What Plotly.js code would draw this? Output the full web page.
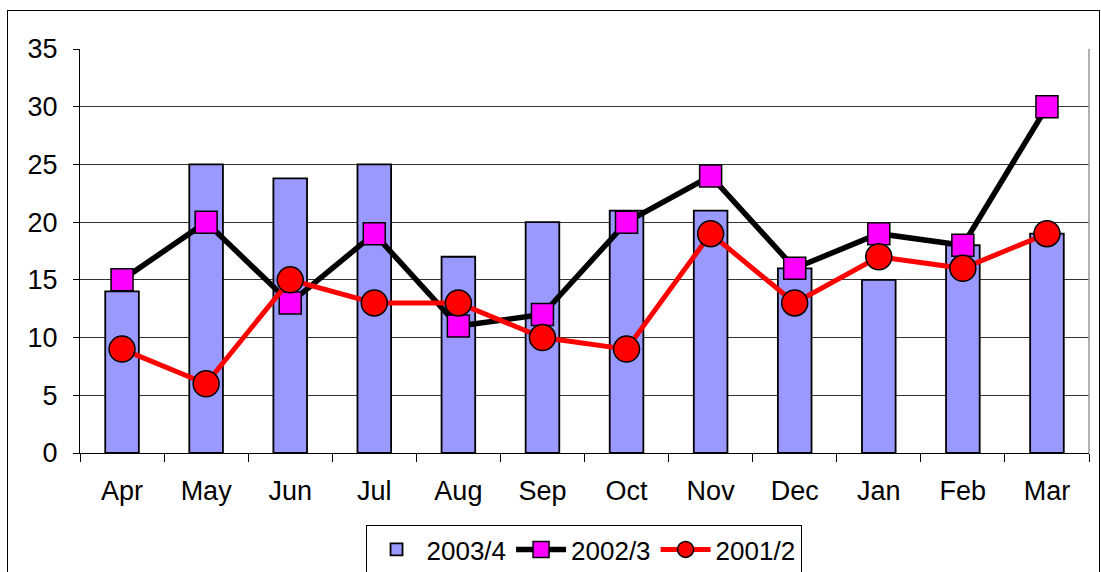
<!DOCTYPE html>
<html>
<head>
<meta charset="utf-8">
<script src="https://cdn.plot.ly/plotly-3.0.1.min.js"></script>
<style>
  html, body { margin: 0; padding: 0; background: #fff; overflow: hidden; }
  #wrap { position: relative; width: 1101px; height: 572px; }
  #frame { position: absolute; left: 7px; top: 10px; width: 1093px; height: 580px; border: 1px solid #000; box-sizing: border-box; pointer-events: none; }
  #chart { position: absolute; left: 0; top: 0; width: 1101px; height: 572px; }
</style>
</head>
<body>
<div id="wrap">
  <div id="chart"></div>
  <div id="frame"></div>
</div>
<script>
const months = ["Apr", "May", "Jun", "Jul", "Aug", "Sep", "Oct", "Nov", "Dec", "Jan", "Feb", "Mar"];
const series2003_4 = [14, 25, 23.8, 25, 17, 20, 21, 21, 16, 15, 18, 19];
const series2002_3 = [15, 20, 13, 19, 11, 12, 20, 24, 16, 19, 18, 30];
const series2001_2 = [9, 6, 15, 13, 13, 10, 9, 19, 13, 17, 16, 19];
const yTicks = [0, 5, 10, 15, 20, 25, 30, 35];

const font = "Liberation Sans, Arial, sans-serif";

const traces = [
  {
    type: "bar", name: "2003/4", x: months, y: series2003_4,
    width: 0.4,
    marker: { color: "#9999FF", line: { color: "#000", width: 1.8 } }
  },
  {
    type: "scatter", mode: "lines+markers", name: "2002/3", x: months, y: series2002_3,
    line: { color: "#000", width: 5.5 },
    marker: { symbol: "square", size: 22, color: "#FF00FF", line: { color: "#000", width: 1.5 } }
  },
  {
    type: "scatter", mode: "lines+markers", name: "2001/2", x: months, y: series2001_2,
    line: { color: "#FF0000", width: 5 },
    marker: { symbol: "circle", size: 26, color: "#FF0000", line: { color: "#000", width: 1.5 } }
  }
];

const layout = {
  width: 1101, height: 572,
  margin: { l: 80, r: 12, t: 49, b: 119 },
  paper_bgcolor: "rgba(0,0,0,0)",
  plot_bgcolor: "#fff",
  showlegend: true,
  font: { family: font, color: "#000", size: 27 },
  xaxis: {
    type: "category",
    categoryorder: "array", categoryarray: months,
    range: [-0.5, 11.5],
    automargin: false,
    showline: true, linecolor: "#000", linewidth: 1,
    mirror: false,
    ticks: "outside", tickson: "boundaries", ticklen: 8, tickcolor: "#000", tickwidth: 1,
    ticklabelstandoff: 14,
    showgrid: false,
    tickfont: { family: font, size: 27, color: "#000" }
  },
  yaxis: {
    range: [0, 35],
    automargin: false,
    tickvals: yTicks, ticktext: yTicks.map(String),
    showline: true, linecolor: "#000", linewidth: 1,
    ticks: "outside", ticklen: 6, tickcolor: "#000", tickwidth: 1,
    ticklabelstandoff: 10,
    showgrid: true, gridcolor: "#333", gridwidth: 1,
    zeroline: false,
    tickfont: { family: font, size: 27, color: "#000" }
  },
  shapes: [
    { type: "line", xref: "paper", yref: "paper", x0: 1, x1: 1, y0: 0, y1: 1, line: { color: "#999", width: 1.5 } }
  ],
  legend: {
    orientation: "h",
    xref: "container", yref: "container",
    x: 0.53, xanchor: "center",
    y: 1 - 525 / 572, yanchor: "top",
    bordercolor: "#000", borderwidth: 1,
    bgcolor: "#fff",
    font: { family: font, size: 26, color: "#000" },
    itemwidth: 50,
    tracegroupgap: 0
  }
};

Plotly.newPlot("chart", traces, layout, { displayModeBar: false, staticPlot: true });
</script>
</body>
</html>
